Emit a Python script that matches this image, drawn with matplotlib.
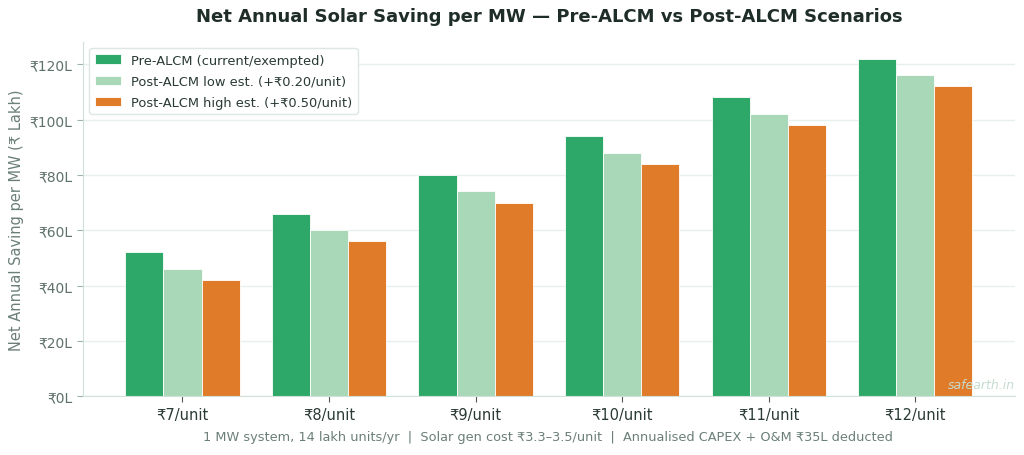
import matplotlib
matplotlib.use("Agg")
import matplotlib.pyplot as plt
import numpy as np

categories = ["₹7/unit", "₹8/unit", "₹9/unit", "₹10/unit", "₹11/unit", "₹12/unit"]
pre_alcm = [52, 66, 80, 94, 108, 122]
post_low = [46, 60, 74, 88, 102, 116]
post_high = [42, 56, 70, 84, 98, 112]
series_labels = ["Pre-ALCM (current/exempted)",
                 "Post-ALCM low est. (+₹0.20/unit)",
                 "Post-ALCM high est. (+₹0.50/unit)"]
yticks = [0, 20, 40, 60, 80, 100, 120]

colors = ["#2ea868", "#a8d8b7", "#e07b2a"]

plt.rcParams['font.family'] = ['DejaVu Sans']
fig = plt.figure(figsize=(10.24, 4.56), dpi=100)
ax = fig.add_axes([0.081, 0.129, 0.910, 0.777])

x = np.arange(len(categories))
w = 0.26
for i, (vals, lab, c) in enumerate(zip([pre_alcm, post_low, post_high], series_labels, colors)):
    ax.bar(x + (i - 1) * w, vals, w, label=lab, color=c, edgecolor="white", linewidth=0.6, zorder=2)

ax.set_xticks(x)
ax.set_xticklabels(categories, fontsize=10.5, color="#2a3a34")
ax.set_yticks(yticks)
ax.set_yticklabels([f"₹{v}L" for v in yticks], fontsize=10, color="#5e716a")
ax.set_ylabel("Net Annual Saving per MW (₹ Lakh)", fontsize=10.5, color="#6b7f78")

ax.grid(axis="y", color="#e6f1ec", linewidth=1, zorder=0)
ax.set_axisbelow(True)
for s in ["top", "right"]:
    ax.spines[s].set_visible(False)
for s in ["left", "bottom"]:
    ax.spines[s].set_color("#cfe2d9")
ax.tick_params(axis="y", color="#9fb3ab", length=4)
ax.tick_params(axis="x", color="#555555", length=4)

leg = ax.legend(loc="upper left", fontsize=9.4, labelspacing=0.62, frameon=True, fancybox=True,
                edgecolor="#dde8e3", framealpha=1, labelcolor="#2a3a34")

ax.text(1.0, 0.015, "safearth.in", transform=ax.transAxes, ha="right", va="bottom",
        fontsize=9, style="italic", color="#c5dccf", zorder=5)

fig.text(0.536, 0.962, "Net Annual Solar Saving per MW — Pre-ALCM vs Post-ALCM Scenarios",
         ha="center", va="center", fontsize=13, fontweight="bold", color="#1f2d28")
fig.text(0.535, 0.04,
         "1 MW system, 14 lakh units/yr  |  Solar gen cost ₹3.3–3.5/unit  |  Annualised CAPEX + O&M ₹35L deducted",
         ha="center", va="center", fontsize=9.3, color="#6b7f78")

fig.savefig("out.png", dpi=100)
